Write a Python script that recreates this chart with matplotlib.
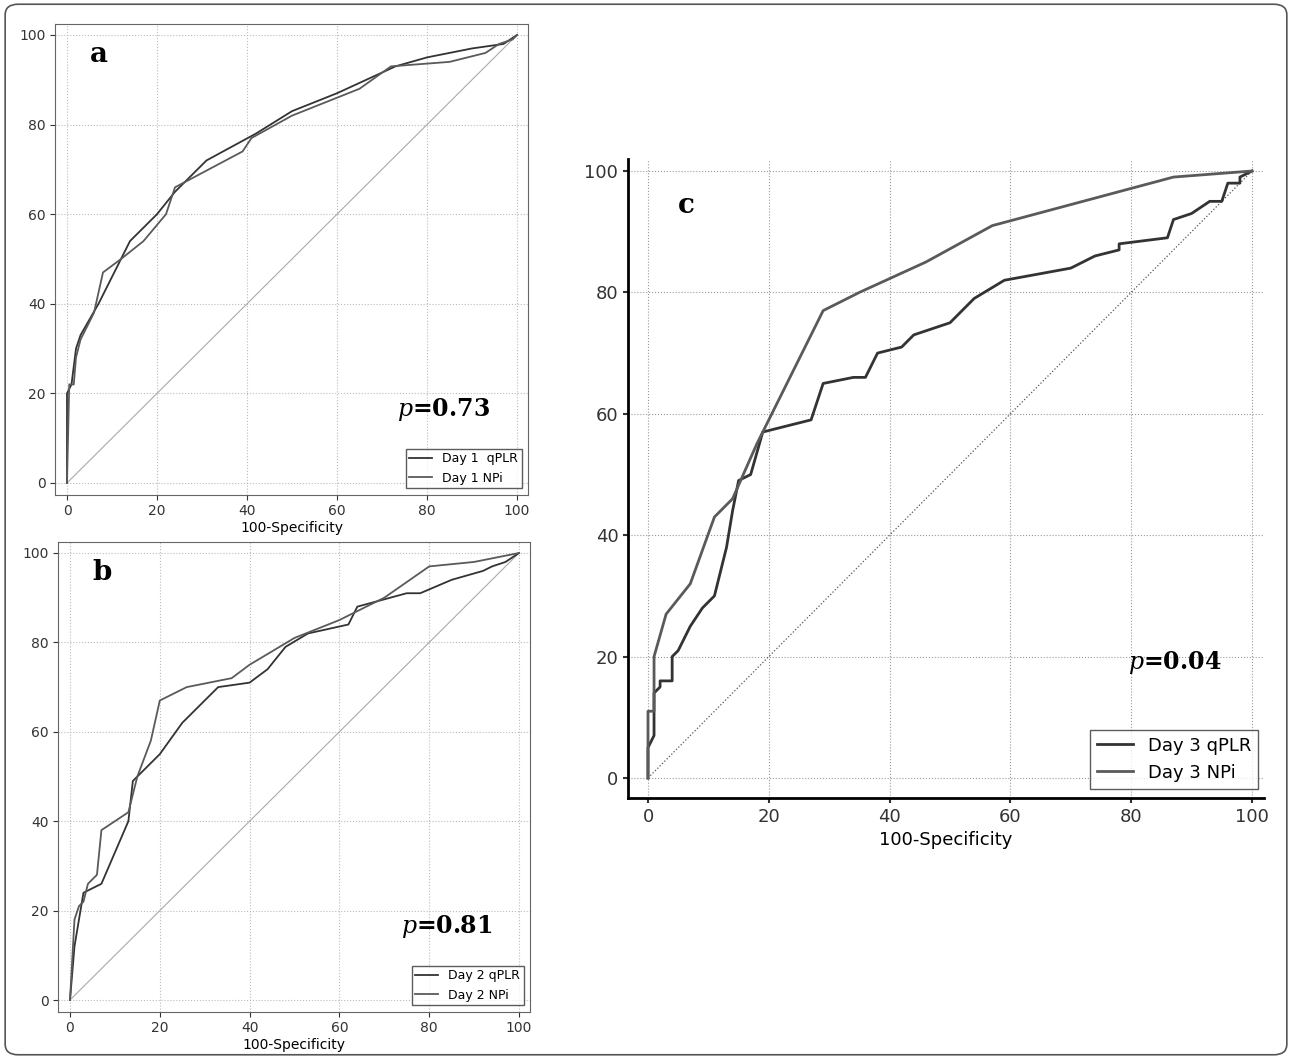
import matplotlib.pyplot as plt
from matplotlib.patches import FancyBboxPatch

plt.rcParams['mathtext.fontset'] = 'dejavuserif'

# panel a
a_qplr_x = [0, 0, 1, 2, 3, 7, 14, 20, 24, 31, 42, 50, 60, 73, 80, 90, 97, 100]
a_qplr_y = [0, 20, 22, 30, 33, 40, 54, 60, 65, 72, 78, 83, 87, 93, 95, 97, 98, 100]
a_npi_x = [0, 0.5, 1.5, 2, 3, 6, 8, 12, 17, 22, 24, 39, 41, 50, 65, 72, 85, 93, 96, 99, 100]
a_npi_y = [0, 22, 22, 28, 32, 38, 47, 50, 54, 60, 66, 74, 77, 82, 88, 93, 94, 96, 98, 99, 100]
# panel b
b_qplr_x = [0, 1, 2, 3, 7, 13, 14, 17, 20, 25, 30, 33, 40, 44, 48, 53, 62, 64, 75, 78, 85, 92, 94, 97, 100]
b_qplr_y = [0, 12, 18, 24, 26, 40, 49, 52, 55, 62, 67, 70, 71, 74, 79, 82, 84, 88, 91, 91, 94, 96, 97, 98, 100]
b_npi_x = [0, 1, 2, 3, 4, 6, 7, 13, 15, 18, 20, 26, 36, 40, 50, 60, 70, 80, 90, 100]
b_npi_y = [0, 18, 21, 22, 26, 28, 38, 42, 50, 58, 67, 70, 72, 75, 81, 85, 90, 97, 98, 100]
# panel c
c_qplr_x = [0, 0, 1, 1, 2, 2, 4, 4, 5, 7, 9, 11, 13, 14, 15, 17, 19, 27, 29, 34, 36, 38, 42, 44,
            50, 54, 59, 70, 74, 78, 78, 86, 87, 90, 93, 95, 96, 98, 98, 100]
c_qplr_y = [0, 5, 7, 14, 15, 16, 16, 20, 21, 25, 28, 30, 38, 44, 49, 50, 57, 59, 65, 66, 66, 70, 71, 73,
            75, 79, 82, 84, 86, 87, 88, 89, 92, 93, 95, 95, 98, 98, 99, 100]
c_npi_x = [0, 0, 1, 1, 3, 7, 11, 14, 18, 29, 35, 46, 57, 87, 100]
c_npi_y = [0, 11, 11, 20, 27, 32, 43, 46, 55, 77, 80, 85, 91, 99, 100]

W, H = 1292, 1059
fig = plt.figure(figsize=(W / 100, H / 100), dpi=100)
fig.patches.append(FancyBboxPatch((0.004, 0.004), 0.992, 0.992, boxstyle="round,pad=0,rounding_size=0.01",
                                  transform=fig.transFigure, fill=False, ec='#555555', lw=1.2))


def ax_px(px0, px100, py0, py100, lo, hi):
    # px0/px100: pixel of data 0 and 100; axes spans data lo..hi
    sx = (px100 - px0) / 100
    sy = (py0 - py100) / 100
    left = px0 + lo * sx
    right = px0 + hi * sx
    bottom = py0 - lo * sy
    top = py0 - hi * sy
    ax = fig.add_axes([left / W, 1 - bottom / H, (right - left) / W, (bottom - top) / H])
    ax.set_xlim(lo, hi)
    ax.set_ylim(lo, hi)
    return ax


def small_panel(px0, px100, py0, py100, data, letter, p, labels):
    ax = ax_px(px0, px100, py0, py100, -2.6, 102.4)
    ax.plot([0, 100], [0, 100], color='#aaaaaa', lw=0.8)
    cols = ['#333333', '#5a5a5a']
    for (xs, ys), c, lab in zip(data, cols, labels):
        ax.plot(xs, ys, color=c, lw=1.3, label=lab)
    ax.grid(True, ls=':', color='#bbbbbb', lw=0.8)
    ax.set_xticks(range(0, 101, 20))
    ax.set_yticks(range(0, 101, 20))
    ax.tick_params(labelsize=10, colors='#333333')
    ax.set_xlabel('100-Specificity', fontsize=10, labelpad=2)
    for s in ax.spines.values():
        s.set_color('#666666')
    ax.text(5, 94, letter, fontsize=20, fontweight='bold', family='DejaVu Serif')
    ax.text(94, 15, r'$\mathbf{\it{p}}$' + '=' + p, fontsize=17, fontweight='bold', family='DejaVu Serif', ha='right')
    ax.legend(loc='lower right', fontsize=9, frameon=True, fancybox=False, edgecolor='#333333',
              handlelength=1.8, borderpad=0.3)
    return ax


small_panel(67, 517, 483, 35, [(a_qplr_x, a_qplr_y), (a_npi_x, a_npi_y)], 'a', '0.73',
            ['Day 1  qPLR', 'Day 1 NPi'])
small_panel(70, 519, 1000, 553, [(b_qplr_x, b_qplr_y), (b_npi_x, b_npi_y)], 'b', '0.81',
            ['Day 2 qPLR', 'Day 2 NPi'])

ax = ax_px(648, 1252, 778, 171, -3.3, 102)
ax.plot([0, 100], [0, 100], color='#555555', lw=0.9, ls=':')
ax.plot(c_qplr_x, c_qplr_y, color='#333333', lw=2, label='Day 3 qPLR')
ax.plot(c_npi_x, c_npi_y, color='#5a5a5a', lw=2, label='Day 3 NPi')
ax.grid(True, ls=':', color='#999999', lw=0.8)
ax.set_xticks(range(0, 101, 20))
ax.set_yticks(range(0, 101, 20))
ax.tick_params(labelsize=13, colors='#333333', width=1.5)
ax.set_xlabel('100-Specificity', fontsize=13)
for k in ['top', 'right']:
    ax.spines[k].set_visible(False)
for k in ['left', 'bottom']:
    ax.spines[k].set_linewidth(2)
ax.text(5, 93, 'c', fontsize=20, fontweight='bold', family='DejaVu Serif')
ax.text(95, 18, r'$\mathbf{\it{p}}$' + '=0.04', fontsize=17, fontweight='bold', family='DejaVu Serif', ha='right')
ax.legend(loc='lower right', bbox_to_anchor=(1.005, 0.0), fontsize=13, frameon=True, fancybox=False,
          edgecolor='#333333', handlelength=2)

fig.savefig('out.png', dpi=100)
